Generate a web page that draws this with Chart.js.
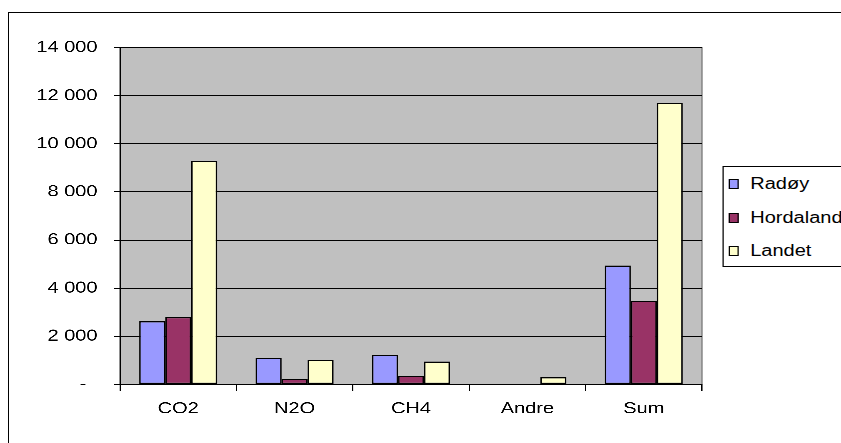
<!DOCTYPE html>
<html>
<head>
<meta charset="utf-8">
<script src="https://cdn.jsdelivr.net/npm/chart.js@4.4.1/dist/chart.umd.min.js"></script>
<style>
  html, body { margin: 0; padding: 0; background: #fff; overflow: hidden; }
  #frame { position: absolute; left: 8px; top: 12px; width: 900px; height: 500px; border: 1px solid #000; }
  #wrap { position: absolute; left: 0; top: 0; width: 673px; height: 443px; transform: scaleX(1.25); transform-origin: 0 0; }
  #legend { position: absolute; left: 577.6px; top: 166px; width: 98px; height: 99px; border: 1px solid #000; background: #fff;
            font-family: "Liberation Sans", Arial, sans-serif; font-size: 16px; color: #000; }
  .row { position: absolute; left: 0; height: 20px; line-height: 20px; }
  .mk { position: absolute; left: 4px; top: 5px; width: 6px; height: 8px; border: 1px solid #000; }
  .tx { position: absolute; left: 21.6px; top: 0; white-space: nowrap; }
</style>
</head>
<body>
<div id="frame"></div>
<div id="wrap">
  <canvas id="gasChart" width="673" height="443"></canvas>
  <div id="legend"></div>
</div>
<script>
var categories = ['CO2', 'N2O', 'CH4', 'Andre', 'Sum'];
var seriesNames = ['Radøy', 'Hordaland', 'Landet'];
var radoy = [2620, 1090, 1230, 0, 4940];
var hordaland = [2790, 220, 360, 0, 3470];
var landet = [9300, 1020, 950, 290, 11700];
var seriesColors = ['#9999FF', '#993366', '#FFFFCC'];
var yTicks = [0, 2000, 4000, 6000, 8000, 10000, 12000, 14000];

var font = { family: '"Liberation Sans", Arial, sans-serif', size: 16 };

function fmt(v) {
    if (v === 0) return '-  ';
    return String(v).replace(/\B(?=(\d{3})+(?!\d))/g, ' ');
}

const plotBg = {
    id: 'plotBg',
    beforeDraw(chart) {
        const a = chart.chartArea, c = chart.ctx;
        c.save();
        c.fillStyle = '#C0C0C0';
        c.fillRect(a.left, a.top, a.right - a.left, a.bottom - a.top);
        c.strokeStyle = '#808080';
        c.lineWidth = 1;
        c.strokeRect(a.left, a.top, a.right - a.left, a.bottom - a.top);
        c.restore();
    }
};

const ctx = document.getElementById('gasChart');

const chart = new Chart(ctx, {
    type: 'bar',
    data: {
        labels: categories,
        datasets: [radoy, hordaland, landet].map(function (d, i) {
            return {
                label: seriesNames[i],
                data: d,
                backgroundColor: seriesColors[i],
                borderColor: '#000',
                borderWidth: 1.2,
                borderSkipped: false,
                categoryPercentage: 0.67,
                barPercentage: 1
            };
        })
    },
    options: {
        responsive: false,
        animation: false,
        devicePixelRatio: 3,
        layout: { padding: { left: 0, top: 47.7, right: 111.4, bottom: 0 } },
        plugins: { legend: { display: false }, tooltip: { enabled: false } },
        scales: {
            x: {
                grid: { offset: true, drawOnChartArea: false, tickLength: 7, color: '#000' },
                border: { color: '#000', width: 1 },
                ticks: { font: font, color: '#000', padding: 8 },
                afterFit: function (s) { s.height = 58.7; }
            },
            y: {
                min: 0,
                max: 14000,
                afterBuildTicks: function (s) { s.ticks = yTicks.map(function (v) { return { value: v }; }); },
                grid: { color: '#000', tickLength: 5 },
                border: { color: '#000', width: 1 },
                ticks: { font: font, color: '#000', padding: 13, callback: function (v) { return fmt(v); } },
                afterFit: function (s) { s.width = 96; }
            }
        }
    },
    plugins: [plotBg]
});

var lg = document.getElementById('legend');
var rowTops = [7, 41, 74];
chart.data.datasets.forEach(function (ds, i) {
    var r = document.createElement('div');
    r.className = 'row';
    r.style.top = rowTops[i] + 'px';
    r.innerHTML = '<span class="mk" style="background:' + ds.backgroundColor + '"></span><span class="tx">' + ds.label + '</span>';
    lg.appendChild(r);
});
</script>
</body>
</html>
